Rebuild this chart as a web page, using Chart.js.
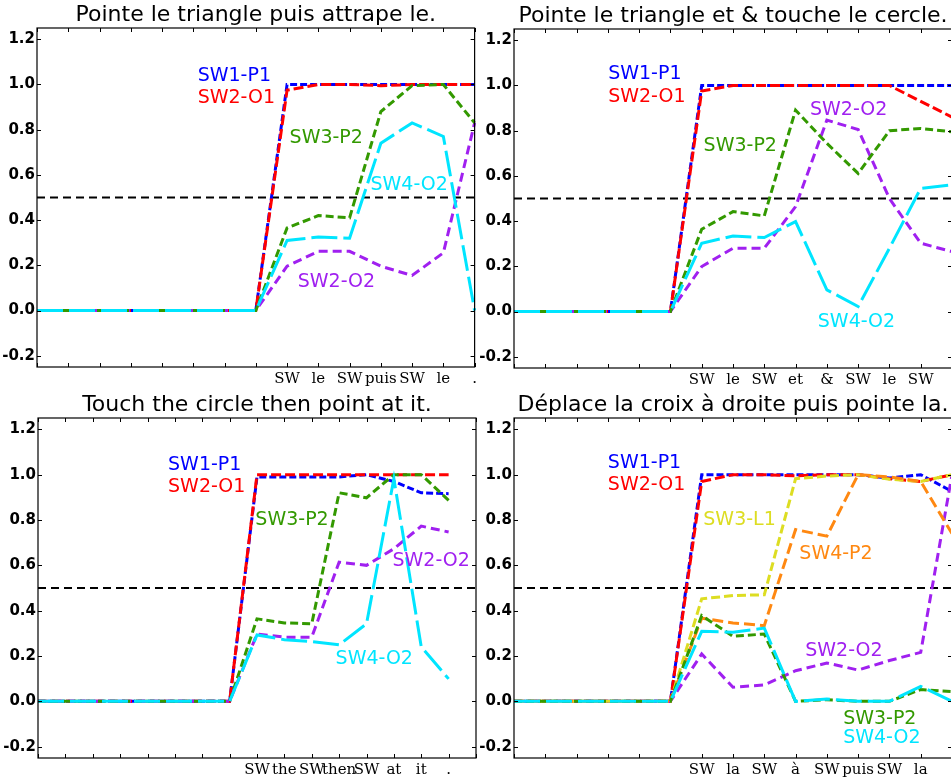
<!DOCTYPE html>
<html><head><meta charset="utf-8">
<script src="https://cdn.jsdelivr.net/npm/chart.js@4.4.1/dist/chart.umd.min.js"></script>
<style>
html,body{margin:0;padding:0;background:#fff;overflow:hidden;width:951px;height:777px;position:relative;}
canvas{position:absolute;}
</style></head><body>
<canvas id="c1" width="480" height="390" style="left:0px;top:0px"></canvas>
<canvas id="c2" width="480" height="390" style="left:476px;top:0px"></canvas>
<canvas id="c3" width="480" height="387" style="left:0px;top:390px"></canvas>
<canvas id="c4" width="480" height="387" style="left:476px;top:390px"></canvas>
<script>
// ---------- shared ----------
const Y_TICKS = [-0.2, 0.0, 0.2, 0.4, 0.6, 0.8, 1.0, 1.2];
const THRESHOLD = 0.5;

// ---------- panel 1 ----------
const p1Title = "Pointe le triangle puis attrape le.";
const p1Labels = ["", "", "", "", "", "", "", "", "SW", "le", "SW", "puis", "SW", "le", "."];
const p1_SW1_P1 = [0, 0, 0, 0, 0, 0, 0, 0, 1.0, 1.0, 1.0, 1.0, 1.0, 1.0, 1.0];
const p1_SW2_O1 = [0, 0, 0, 0, 0, 0, 0, 0, 0.975, 1.0, 1.0, 0.995, 1.0, 1.0, 1.0];
const p1_SW2_O2 = [0, 0, 0, 0, 0, 0, 0, 0, 0.196, 0.262, 0.262, 0.196, 0.155, 0.255, 0.83];
const p1_SW3_P2 = [0, 0, 0, 0, 0, 0, 0, 0, 0.365, 0.42, 0.41, 0.88, 0.995, 1.0, 0.83];
const p1_SW4_O2 = [0, 0, 0, 0, 0, 0, 0, 0, 0.31, 0.325, 0.32, 0.74, 0.83, 0.77, 0.0];

// ---------- panel 2 ----------
const p2Title = "Pointe le triangle et & touche le cercle.";
const p2Labels = ["", "", "", "", "", "", "SW", "le", "SW", "et", "&", "SW", "le", "SW", ""];
const p2_SW1_P1 = [0, 0, 0, 0, 0, 0, 1.0, 1.0, 1.0, 1.0, 1.0, 1.0, 1.0, 1.0, 1.0];
const p2_SW2_O1 = [0, 0, 0, 0, 0, 0, 0.976, 1.0, 1.0, 1.0, 1.0, 1.0, 1.0, 0.93, 0.86];
const p2_SW2_O2 = [0, 0, 0, 0, 0, 0, 0.199, 0.28, 0.28, 0.464, 0.847, 0.805, 0.5, 0.302, 0.265];
const p2_SW3_P2 = [0, 0, 0, 0, 0, 0, 0.364, 0.442, 0.423, 0.891, 0.744, 0.611, 0.8, 0.81, 0.795];
const p2_SW4_O2 = [0, 0, 0, 0, 0, 0, 0.302, 0.334, 0.327, 0.398, 0.096, 0.022, 0.28, 0.545, 0.56];

// ---------- panel 3 ----------
const p3Title = "Touch the circle then point at it.";
const p3Labels = ["", "", "", "", "", "", "", "", "SW", "the", "SW", "then", "SW", "at", "it", ".", ""];
const p3_SW1_P1 = [0, 0, 0, 0, 0, 0, 0, 0, 0.99, 0.99, 0.99, 0.99, 1.0, 0.97, 0.92, 0.916];
const p3_SW2_O1 = [0, 0, 0, 0, 0, 0, 0, 0, 1.0, 1.0, 1.0, 1.0, 1.0, 1.0, 1.0, 1.0];
const p3_SW2_O2 = [0, 0, 0, 0, 0, 0, 0, 0, 0.297, 0.283, 0.283, 0.614, 0.6, 0.673, 0.773, 0.747];
const p3_SW3_P2 = [0, 0, 0, 0, 0, 0, 0, 0, 0.364, 0.346, 0.342, 0.92, 0.898, 1.0, 1.0, 0.887];
const p3_SW4_O2 = [0, 0, 0, 0, 0, 0, 0, 0, 0.293, 0.272, 0.264, 0.249, 0.342, 0.982, 0.24, 0.099];

// ---------- panel 4 ----------
const p4Title = "Déplace la croix à droite puis pointe la.";
const p4Labels = ["", "", "", "", "", "", "SW", "la", "SW", "à", "SW", "puis", "SW", "la", ""];
const p4_SW1_P1 = [0, 0, 0, 0, 0, 0, 1.0, 1.0, 1.0, 1.0, 1.0, 1.0, 0.985, 1.0, 0.926];
const p4_SW2_O1 = [0, 0, 0, 0, 0, 0, 0.97, 1.0, 1.0, 0.995, 1.0, 1.0, 0.982, 0.97, 1.0];
const p4_SW2_O2 = [0, 0, 0, 0, 0, 0, 0.209, 0.062, 0.072, 0.135, 0.169, 0.138, 0.18, 0.216, 1.0];
const p4_SW3_L1 = [0, 0, 0, 0, 0, 0, 0.452, 0.467, 0.47, 0.982, 0.994, 1.0, 0.98, 0.97, 1.0];
const p4_SW4_P2 = [0, 0, 0, 0, 0, 0, 0.367, 0.346, 0.334, 0.758, 0.729, 1.0, 0.99, 0.97, 0.74];
const p4_SW3_P2 = [0, 0, 0, 0, 0, 0, 0.378, 0.287, 0.297, 0.0, 0.007, 0.0, 0.0, 0.052, 0.043];
const p4_SW4_O2 = [0, 0, 0, 0, 0, 0, 0.309, 0.305, 0.323, 0.0, 0.01, 0.0, 0.0, 0.066, 0.0];

// ---------- styles ----------
const STYLE = {
  "SW1-P1": {color: "#0000ff", dash: [7, 3]},
  "SW2-O1": {color: "#ff0000", dash: [10, 4]},
  "SW2-O2": {color: "#a020f0", dash: [9, 5]},
  "SW3-P2": {color: "#339900", dash: [8, 4]},
  "SW3-L1": {color: "#dddd22", dash: [9, 4]},
  "SW4-P2": {color: "#ff8811", dash: [11, 5]},
  "SW4-O2": {color: "#00e5ff", dash: [26, 6]}
};

// label placement in data coordinates (x = category index, y = value at text centre)
const p1Notes = [["SW1-P1", 5.14, 1.047], ["SW2-O1", 5.14, 0.95], ["SW3-P2", 8.08, 0.77], ["SW4-O2", 10.67, 0.565], ["SW2-O2", 8.34, 0.133]];
const p2Notes = [["SW1-P1", 3.01, 1.059], ["SW2-O1", 3.01, 0.957], ["SW3-P2", 6.06, 0.741], ["SW2-O2", 9.46, 0.9], ["SW4-O2", 9.71, -0.037]];
const p3Notes = [["SW1-P1", 4.75, 1.05], ["SW2-O1", 4.75, 0.953], ["SW3-P2", 7.94, 0.811], ["SW2-O2", 12.95, 0.626], ["SW4-O2", 10.87, 0.197]];
const p4Notes = [["SW1-P1", 3.0, 1.059], ["SW2-O1", 3.0, 0.962], ["SW3-L1", 6.05, 0.807], ["SW4-P2", 9.12, 0.657], ["SW2-O2", 9.31, 0.233], ["SW3-P2", 10.52, -0.068], ["SW4-O2", 10.52, -0.152]];

const deco = {
  id: 'deco',
  afterDatasetsDraw(chart, args, opts) {
    const {ctx, scales: {x, y}} = chart;
    ctx.save();
    ctx.font = '19px "DejaVu Sans"';
    ctx.textAlign = 'left';
    ctx.textBaseline = 'alphabetic';
    opts.notes.forEach(n => {
      ctx.fillStyle = STYLE[n[0]].color;
      ctx.fillText(n[0], x.getPixelForValue(n[1]), y.getPixelForValue(n[2]) + 7);
    });
    ctx.restore();
  },
  afterDraw(chart, args, opts) {
    const {ctx, chartArea: a, scales: {x, y}} = chart;
    ctx.save();
    ctx.strokeStyle = '#000';
    ctx.lineWidth = 1.2;
    ctx.strokeRect(a.left, a.top, a.right - a.left, a.bottom - a.top);
    ctx.lineWidth = 1;
    ctx.beginPath();
    for (let i = 0; i < x.ticks.length; i++) {
      const px = Math.round(x.getPixelForTick(i)) + 0.5;
      ctx.moveTo(px, a.bottom); ctx.lineTo(px, a.bottom - 4);
      ctx.moveTo(px, a.top); ctx.lineTo(px, a.top + 4);
    }
    Y_TICKS.forEach(v => {
      const py = Math.round(y.getPixelForValue(v)) + 0.5;
      ctx.moveTo(a.left, py); ctx.lineTo(a.left + 4, py);
      ctx.moveTo(a.right, py); ctx.lineTo(a.right - 4, py);
    });
    ctx.stroke();
    ctx.fillStyle = '#000';
    ctx.font = '22px "DejaVu Sans"';
    ctx.textAlign = 'center';
    ctx.textBaseline = 'alphabetic';
    ctx.fillText(opts.title, (a.left + a.right) / 2, a.top - 7);
    ctx.restore();
  }
};

function makePanel(id, title, labels, series, notes, lay) {
  const datasets = [{
    data: labels.map(() => THRESHOLD),
    borderColor: '#000', borderWidth: 2, borderDash: [8, 5], pointRadius: 0, order: 0
  }];
  series.forEach((s, i) => {
    const st = STYLE[s[0]];
    datasets.push({
      label: s[0], data: s[1], borderColor: st.color, borderWidth: 3,
      borderDash: st.dash, pointRadius: 0, fill: false, tension: 0,
      borderCapStyle: 'butt', borderJoinStyle: 'miter', order: -(i + 1)
    });
  });
  new Chart(document.getElementById(id), {
    type: 'line',
    data: {labels: labels, datasets: datasets},
    plugins: [deco],
    options: {
      responsive: false, animation: false, devicePixelRatio: 1,
      layout: {autoPadding: false, padding: {top: lay.top, right: lay.right, left: 0, bottom: 0}},
      plugins: {legend: {display: false}, tooltip: {enabled: false},
        deco: {title: title, notes: notes}},
      scales: {
        x: {
          type: 'category', offset: false,
          grid: {display: false, drawTicks: false}, border: {display: false},
          ticks: {autoSkip: false, maxRotation: 0, minRotation: 0, padding: 3, color: '#000',
            font: {family: '"DejaVu Serif"', size: 15}},
          afterFit: s => { s.height = lay.xh; }
        },
        y: {
          min: -0.25, max: 1.25,
          grid: {display: false, drawTicks: false}, border: {display: false},
          afterBuildTicks: s => { s.ticks = Y_TICKS.map(v => ({value: v})); },
          ticks: {padding: 2, color: '#000', font: {family: '"DejaVu Sans"', size: 15, weight: 'bold'},
            callback: v => (Math.abs(v) < 1e-9 ? 0 : v).toFixed(1)},
          afterFit: s => { s.width = lay.yw; }
        }
      }
    }
  });
}

makePanel('c1', p1Title, p1Labels,
  [["SW1-P1", p1_SW1_P1], ["SW2-O1", p1_SW2_O1], ["SW2-O2", p1_SW2_O2], ["SW3-P2", p1_SW3_P2], ["SW4-O2", p1_SW4_O2]],
  p1Notes, {top: 28, right: 5, xh: 23, yw: 37});
makePanel('c2', p2Title, p2Labels,
  [["SW1-P1", p2_SW1_P1], ["SW2-O1", p2_SW2_O1], ["SW2-O2", p2_SW2_O2], ["SW3-P2", p2_SW3_P2], ["SW4-O2", p2_SW4_O2]],
  p2Notes, {top: 29, right: 4, xh: 22, yw: 38});
makePanel('c3', p3Title, p3Labels,
  [["SW1-P1", p3_SW1_P1], ["SW2-O1", p3_SW2_O1], ["SW2-O2", p3_SW2_O2], ["SW3-P2", p3_SW3_P2], ["SW4-O2", p3_SW4_O2]],
  p3Notes, {top: 28, right: 4, xh: 19, yw: 38});
makePanel('c4', p4Title, p4Labels,
  [["SW1-P1", p4_SW1_P1], ["SW2-O1", p4_SW2_O1], ["SW2-O2", p4_SW2_O2], ["SW3-L1", p4_SW3_L1], ["SW4-P2", p4_SW4_P2], ["SW3-P2", p4_SW3_P2], ["SW4-O2", p4_SW4_O2]],
  p4Notes, {top: 28, right: 4, xh: 19, yw: 38});
</script>
</body></html>
